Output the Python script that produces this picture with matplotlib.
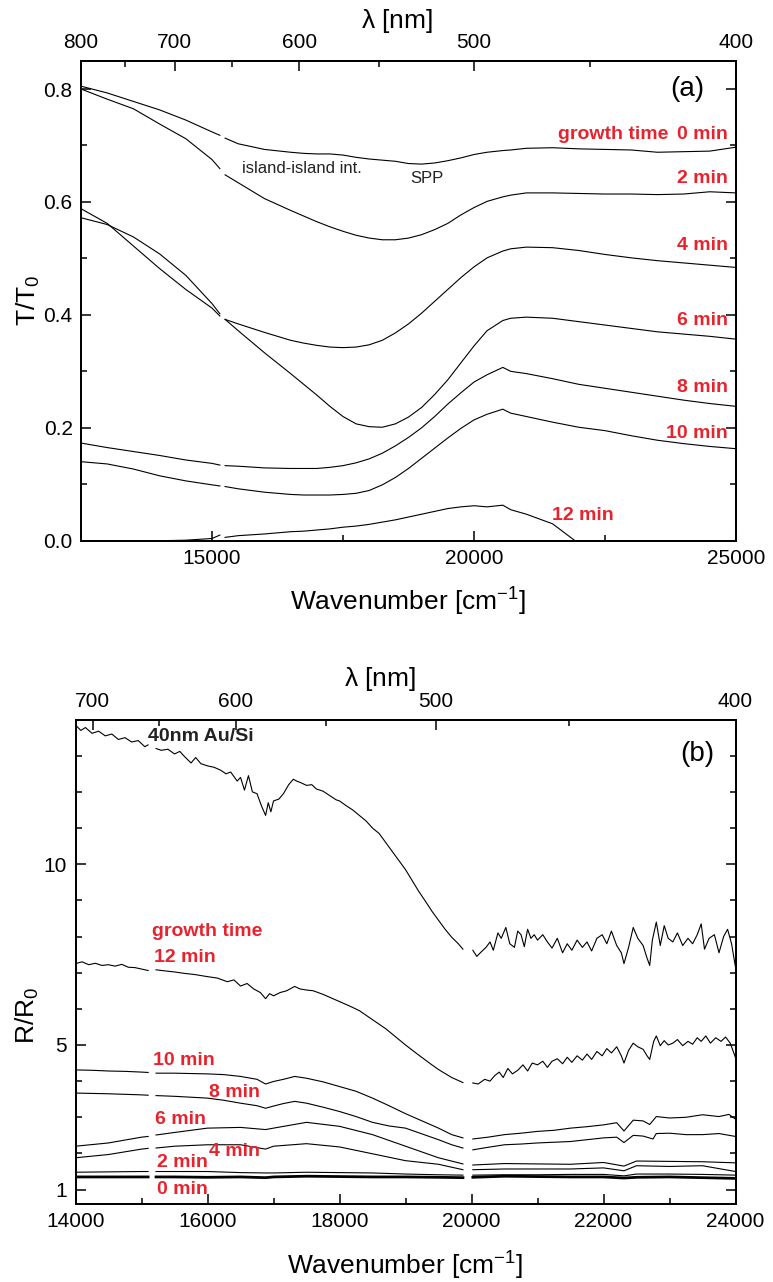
import numpy as np
import matplotlib
matplotlib.use("Agg")
import matplotlib.pyplot as plt
from matplotlib.ticker import MultipleLocator, FixedLocator

plt.rcParams['font.family'] = ['Liberation Sans', 'DejaVu Sans']
plt.rcParams['mathtext.default'] = 'regular'

nan = np.nan
RED = '#e8232d'

# ---------------- panel (a): transmission ----------------
wn_a = [12500, 13000, 13500, 14000, 14500, 15000, 15150, 15200, 15250, 15500,
        16000, 16500, 16750, 17000, 17250, 17500, 17750, 18000, 18250, 18500,
        18750, 19000, 19250, 19500, 19750, 20000, 20250, 20550, 20700, 21000,
        21500, 22000, 22500, 23000, 23500, 24000, 24500, 25000]

t_0min = [0.805, 0.793, 0.778, 0.763, 0.745, 0.724, 0.718, nan, 0.713, 0.703,
          0.693, 0.688, 0.686, 0.685, 0.685, 0.683, 0.679, 0.676, 0.674, 0.672,
          0.668, 0.667, 0.669, 0.673, 0.678, 0.684, 0.688, 0.691, 0.692, 0.695,
          0.696, 0.694, 0.693, 0.692, 0.688, 0.689, 0.690, 0.697]
t_2min = [0.800, 0.782, 0.765, 0.738, 0.712, 0.675, 0.659, nan, 0.648, 0.634,
          0.606, 0.585, 0.575, 0.565, 0.556, 0.548, 0.541, 0.536, 0.533, 0.533,
          0.536, 0.542, 0.551, 0.562, 0.577, 0.590, 0.601, 0.609, 0.612, 0.616,
          0.616, 0.615, 0.614, 0.614, 0.613, 0.614, 0.618, 0.616]
t_4min = [0.572, 0.560, 0.538, 0.508, 0.470, 0.420, 0.402, nan, 0.392, 0.384,
          0.369, 0.355, 0.350, 0.346, 0.343, 0.342, 0.343, 0.347, 0.355, 0.368,
          0.384, 0.403, 0.424, 0.445, 0.466, 0.485, 0.501, 0.513, 0.517, 0.520,
          0.519, 0.514, 0.507, 0.501, 0.496, 0.492, 0.488, 0.484]
t_6min = [0.588, 0.562, 0.522, 0.482, 0.445, 0.412, 0.398, nan, 0.392, 0.372,
          0.333, 0.296, 0.277, 0.258, 0.238, 0.220, 0.207, 0.202, 0.201, 0.207,
          0.219, 0.236, 0.259, 0.285, 0.315, 0.345, 0.372, 0.390, 0.394, 0.396,
          0.394, 0.388, 0.382, 0.376, 0.370, 0.366, 0.362, 0.357]
t_8min = [0.173, 0.165, 0.158, 0.151, 0.143, 0.137, 0.134, nan, 0.133, 0.132,
          0.129, 0.128, 0.128, 0.128, 0.130, 0.133, 0.138, 0.145, 0.155, 0.168,
          0.183, 0.200, 0.220, 0.242, 0.262, 0.281, 0.294, 0.307, 0.300, 0.296,
          0.287, 0.277, 0.270, 0.263, 0.256, 0.249, 0.243, 0.238]
t_10min = [0.140, 0.136, 0.127, 0.115, 0.106, 0.099, 0.097, nan, 0.096, 0.092,
           0.086, 0.082, 0.081, 0.081, 0.081, 0.082, 0.084, 0.089, 0.099, 0.112,
           0.128, 0.146, 0.164, 0.182, 0.199, 0.214, 0.224, 0.233, 0.226, 0.220,
           0.210, 0.201, 0.195, 0.186, 0.178, 0.172, 0.167, 0.163]
t_12min = [-0.005, -0.005, -0.005, 0.000, 0.001, 0.004, 0.010, nan, 0.006, 0.009,
           0.012, 0.016, 0.017, 0.019, 0.021, 0.024, 0.026, 0.029, 0.033, 0.037,
           0.042, 0.047, 0.052, 0.057, 0.060, 0.062, 0.060, 0.063, 0.055, 0.047,
           0.030, -0.005, -0.01, -0.01, -0.01, -0.01, -0.01, -0.01]

curves_a = [t_0min, t_2min, t_4min, t_6min, t_8min, t_10min, t_12min]
labels_a = ['0 min', '2 min', '4 min', '6 min', '8 min', '10 min']
label_y_a = [0.720, 0.641, 0.522, 0.390, 0.272, 0.190]

# ---------------- panel (b): reflection ----------------
wn_au = [14000, 14080, 14150, 14250, 14350, 14450, 14550, 14650, 14750, 14850,
         14950, 15050, 15100, 15150, 15220, 15300, 15400, 15500, 15580, 15650,
         15750, 15820, 15900, 16000, 16100, 16200, 16280, 16350, 16450, 16500,
         16560, 16620, 16680, 16750, 16820, 16880, 16920, 16960, 17000, 17080,
         17150, 17230, 17300, 17350, 17420, 17500, 17580, 17650, 17750, 17850,
         17950, 18000, 18100, 18200, 18300, 18400, 18500, 18600, 18700, 18800,
         18900, 19000, 19100, 19200, 19300, 19400, 19500, 19600, 19700, 19800,
         19870, 19940, 20020, 20080, 20150, 20220, 20280, 20330, 20400, 20450,
         20520, 20580, 20650, 20700, 20750, 20800, 20850, 20900, 20950, 21000,
         21080, 21150, 21220, 21300, 21380, 21450, 21520, 21600, 21680, 21750,
         21820, 21900, 21980, 22050, 22120, 22200, 22270, 22310, 22380, 22450,
         22520, 22600, 22660, 22700, 22740, 22800, 22860, 22920, 22980, 23050,
         23120, 23200, 23280, 23350, 23420, 23480, 23530, 23600, 23680, 23750,
         23820, 23880, 23940, 24000]
r_au = [13.85, 13.70, 13.78, 13.62, 13.68, 13.55, 13.60, 13.45, 13.50, 13.38,
        13.42, 13.25, 13.30, nan, 13.20, 13.15, 13.18, 13.05, 13.12, 12.98,
        12.80, 12.95, 12.78, 12.72, 12.68, 12.60, 12.50, 12.55, 12.30, 12.40,
        12.05, 12.45, 12.00, 11.95, 11.60, 11.35, 11.70, 11.45, 11.75, 11.80,
        11.95, 12.20, 12.35, 12.30, 12.25, 12.18, 12.20, 12.08, 12.02, 11.90,
        11.78, 11.75, 11.62, 11.50, 11.35, 11.20, 11.00, 10.85, 10.60, 10.35,
        10.10, 9.85, 9.55, 9.25, 8.98, 8.70, 8.45, 8.20, 7.98, 7.80,
        7.65, nan, 7.62, 7.45, 7.58, 7.70, 7.85, 7.62, 8.10, 7.95,
        8.25, 7.80, 7.70, 8.15, 8.05, 7.72, 8.20, 7.95, 8.05, 7.90,
        8.05, 7.85, 7.68, 7.95, 7.55, 7.80, 7.62, 7.90, 7.70, 7.85,
        7.60, 7.95, 8.05, 7.80, 8.15, 7.75, 7.55, 7.25, 7.70, 8.25,
        7.95, 7.75, 7.40, 7.20, 7.90, 8.40, 7.75, 8.30, 7.95, 7.85,
        8.10, 7.75, 7.95, 7.80, 8.05, 8.35, 7.65, 7.95, 8.05, 7.55,
        8.00, 8.20, 7.80, 7.15]

wn_12 = [14000, 14100, 14200, 14300, 14400, 14500, 14600, 14700, 14800, 14900,
         15000, 15100, 15150, 15220, 15350, 15500, 15650, 15800, 16000, 16150,
         16300, 16400, 16500, 16600, 16700, 16800, 16880, 16940, 17000, 17100,
         17200, 17320, 17400, 17500, 17600, 17750, 17900, 18000, 18150, 18300,
         18500, 18700, 18900, 19000, 19200, 19400, 19500, 19700, 19870, 19940,
         20020, 20100, 20200, 20280, 20350, 20420, 20480, 20550, 20620, 20700,
         20780, 20850, 20920, 21000, 21080, 21150, 21220, 21300, 21380, 21450,
         21520, 21600, 21680, 21750, 21820, 21900, 21980, 22050, 22120, 22200,
         22270, 22310, 22380, 22450, 22520, 22600, 22660, 22700, 22760, 22800,
         22860, 22920, 22980, 23050, 23120, 23200, 23280, 23350, 23420, 23480,
         23550, 23620, 23700, 23780, 23850, 23920, 24000]
r_12 = [7.25, 7.30, 7.22, 7.26, 7.20, 7.22, 7.18, 7.23, 7.15, 7.14,
        7.10, 7.06, nan, 7.08, 7.05, 7.02, 6.98, 6.95, 6.89, 6.85,
        6.75, 6.80, 6.63, 6.70, 6.55, 6.45, 6.28, 6.42, 6.36, 6.45,
        6.50, 6.62, 6.55, 6.52, 6.50, 6.40, 6.28, 6.20, 6.08, 5.95,
        5.70, 5.45, 5.15, 5.00, 4.72, 4.45, 4.32, 4.10, 3.96, nan,
        3.95, 3.92, 4.05, 4.00, 4.15, 4.25, 4.10, 4.35, 4.20, 4.30,
        4.45, 4.28, 4.50, 4.45, 4.55, 4.38, 4.55, 4.62, 4.48, 4.66,
        4.52, 4.70, 4.58, 4.75, 4.60, 4.82, 4.70, 4.90, 4.78, 4.95,
        4.70, 4.50, 4.85, 5.05, 4.95, 4.88, 4.70, 4.60, 5.10, 5.25,
        4.98, 5.12, 5.00, 5.05, 5.15, 4.98, 5.10, 5.02, 5.20, 5.10,
        5.25, 5.05, 5.20, 5.10, 5.22, 5.05, 4.65]

wn_10 = [14000, 14250, 14500, 14750, 15000, 15100, 15150, 15220, 15500, 16000,
         16250, 16500, 16750, 16880, 17000, 17150, 17320, 17500, 17750, 18000,
         18250, 18500, 18750, 19000, 19250, 19500, 19700, 19870, 19940, 20020,
         20250, 20500, 20750, 21000, 21250, 21500, 21750, 22000, 22200, 22310,
         22450, 22600, 22700, 22800, 23000, 23250, 23500, 23750, 23900, 24000]
r_10 = [4.31, 4.30, 4.28, 4.27, 4.25, 4.24, nan, 4.22, 4.22, 4.20,
        4.18, 4.13, 4.05, 3.92, 3.99, 4.05, 4.13, 4.08, 3.98, 3.85,
        3.72, 3.53, 3.32, 3.10, 2.90, 2.70, 2.52, 2.43, nan, 2.40,
        2.45, 2.52, 2.56, 2.61, 2.64, 2.70, 2.74, 2.79, 2.85, 2.62,
        2.92, 2.90, 2.80, 3.02, 2.98, 3.00, 3.07, 3.02, 3.08, 2.95]

wn_8 = [14000, 14500, 15000, 15100, 15150, 15220, 15500, 16000, 16250, 16500,
        16750, 16880, 17000, 17150, 17320, 17500, 17750, 18000, 18250, 18500,
        18750, 19000, 19250, 19500, 19700, 19870, 19940, 20020, 20250, 20500,
        20750, 21000, 21250, 21500, 21750, 22000, 22200, 22310, 22450, 22600,
        22750, 22800, 23000, 23250, 23500, 23750, 24000]
r_8 = [3.67, 3.65, 3.62, 3.61, nan, 3.60, 3.58, 3.53, 3.47, 3.39,
       3.32, 3.25, 3.31, 3.38, 3.44, 3.39, 3.28, 3.16, 3.02, 2.86,
       2.76, 2.70, 2.54, 2.38, 2.24, 2.15, nan, 2.10, 2.17, 2.24,
       2.26, 2.29, 2.31, 2.33, 2.38, 2.43, 2.45, 2.30, 2.50, 2.48,
       2.40, 2.55, 2.56, 2.52, 2.52, 2.55, 2.47]

wn_low = [14000, 14500, 15000, 15100, 15150, 15220, 15500, 16000, 16500, 16880,
          17000, 17500, 18000, 18500, 19000, 19500, 19870, 19940, 20020, 20500,
          21000, 21500, 22000, 22310, 22500, 23000, 23500, 24000]
r_6 = [2.20, 2.29, 2.45, 2.47, nan, 2.51, 2.58, 2.70, 2.72, 2.66,
       2.70, 2.86, 2.75, 2.52, 2.20, 1.88, 1.71, nan, 1.68, 1.72,
       1.71, 1.70, 1.75, 1.65, 1.79, 1.78, 1.77, 1.74]
r_4 = [1.88, 1.97, 2.12, 2.14, nan, 2.15, 2.20, 2.24, 2.24, 2.12,
       2.20, 2.27, 2.18, 1.99, 1.80, 1.70, 1.55, nan, 1.55, 1.57,
       1.57, 1.57, 1.60, 1.52, 1.66, 1.64, 1.66, 1.50]
r_2 = [1.48, 1.49, 1.50, 1.50, nan, 1.50, 1.50, 1.50, 1.47, 1.46,
       1.46, 1.48, 1.47, 1.46, 1.43, 1.41, 1.40, nan, 1.40, 1.41,
       1.41, 1.42, 1.42, 1.38, 1.43, 1.43, 1.42, 1.40]
r_0 = [1.35, 1.35, 1.35, 1.35, nan, 1.35, 1.35, 1.34, 1.35, 1.33,
       1.35, 1.37, 1.36, 1.35, 1.35, 1.34, 1.33, nan, 1.34, 1.37,
       1.36, 1.35, 1.35, 1.32, 1.34, 1.35, 1.33, 1.31]

labels_b = ['12 min', '10 min', '8 min', '6 min', '4 min', '2 min', '0 min']
label_x_b = [15189, 15179, 16027, 15209, 16027, 15239, 15239]
label_y_b = [7.41, 4.57, 3.69, 2.95, 2.04, 1.75, 1.01]


def style_axes(ax):
    for sp in ax.spines.values():
        sp.set_linewidth(1.3)
    ax.tick_params(which='both', direction='in', right=True, top=False,
                   labelsize=15, pad=6, width=1.1)
    ax.tick_params(which='major', length=7)
    ax.tick_params(which='minor', length=4)


def top_wavelength_axis(ax, lo, hi, major_nm, minor_nm, label_x):
    top = ax.twiny()
    top.set_xlim(lo, hi)
    top.xaxis.set_major_locator(FixedLocator([1e7 / l for l in major_nm]))
    top.xaxis.set_minor_locator(FixedLocator([1e7 / l for l in minor_nm]))
    top.set_xticklabels([str(l) for l in major_nm])
    top.tick_params(which='both', direction='in', labelsize=15, pad=6, width=1.1)
    top.tick_params(which='major', length=7)
    top.tick_params(which='minor', length=4)
    top.set_xlabel(r'$\lambda$ [nm]', fontsize=19)
    top.xaxis.label.set_va('center')
    top.xaxis.set_label_coords(label_x, 1.083)
    for sp in top.spines.values():
        sp.set_linewidth(1.3)
    return top


fig = plt.figure(figsize=(7.73, 12.82), dpi=100)

# ---- (a)
axa = fig.add_axes([0.1048, 0.5782, 0.8473, 0.3744])
for t in curves_a:
    axa.plot(wn_a, t, color='k', lw=0.8)
axa.set_xlim(12500, 25000)
axa.set_ylim(0, 0.85)
axa.xaxis.set_major_locator(FixedLocator([15000, 20000, 25000]))
axa.xaxis.set_minor_locator(MultipleLocator(2500))
axa.yaxis.set_major_locator(MultipleLocator(0.2))
axa.yaxis.set_minor_locator(MultipleLocator(0.1))
axa.yaxis.set_major_formatter(plt.FormatStrFormatter('%.1f'))
style_axes(axa)
axa.set_xlabel('Wavenumber [cm$^{-1}$]', fontsize=19)
axa.xaxis.label.set_va('center')
axa.xaxis.set_label_coords(0.5, -0.128)
axa.set_ylabel('T/T$_0$', fontsize=19)
axa.yaxis.label.set_va('center')
axa.yaxis.set_label_coords(-0.08, 0.5)
top_wavelength_axis(axa, 12500, 25000, [800, 700, 600, 500, 400],
                    [750, 650, 550, 450], 0.482)

for lab, y in zip(labels_a, label_y_a):
    axa.text(24847, y, lab, color=RED, fontsize=14, fontweight='bold',
             ha='right', va='center')
axa.text(23702, 0.720, 'growth time', color=RED, fontsize=14,
         fontweight='bold', ha='right', va='center')
axa.text(21483, 0.044, '12 min', color=RED, fontsize=14, fontweight='bold',
         ha='left', va='center')
axa.text(15567, 0.659, 'island-island int.', fontsize=12, color='#222222',
         ha='left', va='center')
axa.text(18792, 0.642, 'SPP', fontsize=12, color='#222222',
         ha='left', va='center')
axa.text(24075, 0.800, '(a)', fontsize=20, ha='center', va='center')

# ---- (b)
axb = fig.add_axes([0.0977, 0.0608, 0.8538, 0.3779])
axb.plot(wn_au, r_au, color='k', lw=0.8)
axb.plot(wn_12, r_12, color='k', lw=0.8)
axb.plot(wn_10, r_10, color='k', lw=0.8)
axb.plot(wn_8, r_8, color='k', lw=0.8)
axb.plot(wn_low, r_6, color='k', lw=0.8)
axb.plot(wn_low, r_4, color='k', lw=0.8)
axb.plot(wn_low, r_2, color='k', lw=0.8)
axb.plot(wn_low, r_0, color='k', lw=2.0)
axb.set_xlim(14000, 24000)
axb.set_ylim(0.6, 14)
axb.xaxis.set_major_locator(MultipleLocator(2000))
axb.xaxis.set_minor_locator(MultipleLocator(1000))
axb.yaxis.set_major_locator(FixedLocator([1, 5, 10]))
axb.yaxis.set_minor_locator(MultipleLocator(1))
style_axes(axb)
axb.set_xlabel('Wavenumber [cm$^{-1}$]', fontsize=19)
axb.xaxis.label.set_va('center')
axb.xaxis.set_label_coords(0.5, -0.127)
axb.set_ylabel('R/R$_0$', fontsize=19)
axb.yaxis.label.set_va('center')
axb.yaxis.set_label_coords(-0.0735, 0.39)
top_wavelength_axis(axb, 14000, 25000, [700, 600, 500, 400],
                    [650, 550, 450], 0.461)

axb.text(15103, 13.54, '40nm Au/Si', fontsize=14, fontweight='bold',
         color='#222222', ha='left', va='center')
axb.text(15155, 8.13, 'growth time', color=RED, fontsize=14,
         fontweight='bold', ha='left', va='center')
for lab, x, y in zip(labels_b, label_x_b, label_y_b):
    axb.text(x, y, lab, color=RED, fontsize=14, fontweight='bold',
             ha='left', va='center')
axb.text(23424, 13.06, '(b)', fontsize=20, ha='center', va='center')

fig.savefig('out.png', dpi=100)
